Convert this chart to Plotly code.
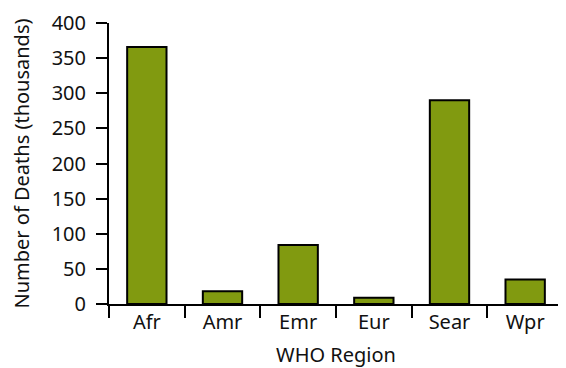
import plotly.graph_objects as go

regions = ["Afr", "Amr", "Emr", "Eur", "Sear", "Wpr"]
deaths = [366, 18, 84, 9, 290, 35]
y_ticks = [0, 50, 100, 150, 200, 250, 300, 350, 400]

fig = go.Figure(go.Bar(
    x=regions, y=deaths,
    marker=dict(color="#819A10", line=dict(color="black", width=2)),
    width=0.52,
))

font = dict(family="Noto Sans, Open Sans, sans-serif", size=20, color="#111")

fig.update_layout(
    width=558, height=360,
    margin=dict(l=101, r=3, t=15, b=64, autoexpand=False),
    plot_bgcolor="white", paper_bgcolor="white",
    font=font,
    showlegend=False,
    xaxis=dict(
        type="category", range=[-0.5, 5.5],
        showline=True, linecolor="black", linewidth=2,
        ticks="outside", tickson="boundaries", ticklen=12, tickwidth=2, tickcolor="black",
        tickfont=dict(size=20), ticklabelstandoff=-1,
        showgrid=False, zeroline=False, automargin=False,
        title=dict(text="WHO Region", standoff=17, font=dict(size=20)),
    ),
    yaxis=dict(
        range=[0, 400], tickvals=y_ticks,
        showline=True, linecolor="black", linewidth=2,
        ticks="outside", ticklen=11, tickwidth=2, tickcolor="black",
        tickfont=dict(size=20), ticklabelstandoff=6,
        showgrid=False, zeroline=False, automargin=False,
        title=dict(text="Number of Deaths (thousands)", standoff=20, font=dict(size=20)),
    ),
)

fig.write_html("out.html")
